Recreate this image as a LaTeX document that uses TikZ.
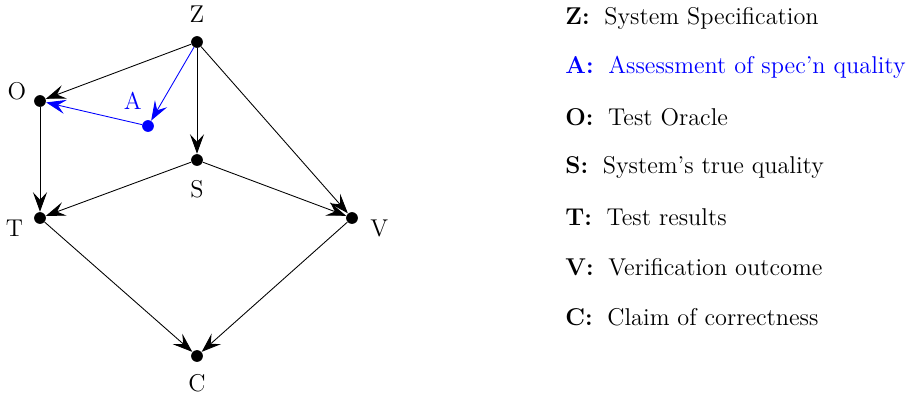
\documentclass[tikz,border=0pt]{standalone}
\usetikzlibrary{arrows.meta}
\begin{document}
\begin{tikzpicture}[x=0.0162cm, y=-0.0162cm,
    font=\fontsize{11.2}{13.5}\selectfont,
    >={Stealth[length=9pt, width=6.5pt, inset=3.5pt]},
    var/.style={circle, fill=black, inner sep=0pt, minimum size=0.19cm},
    key/.style={anchor=west, inner sep=0pt}]
  \useasboundingbox (0,0) rectangle (914,394);
  % variables
  \node[var, label={[label distance=2.5pt]above:Z}] (z) at (197,42)  {};
  \node[var, label={[yshift=4.6pt]left:O}]          (o) at (40,101)  {};
  \node[var, fill=blue, label={[xshift=-7pt, label distance=1pt, text=blue]above:A}] (a) at (148,126) {};
  \node[var, label={[label distance=3pt]below:S}]   (s) at (197,160) {};
  \node[var, label={[yshift=-4.6pt, xshift=-1.4pt]left:T}]  (t) at (40,218)  {};
  \node[var, label={[yshift=-4.6pt, xshift=2pt]right:V}]    (v) at (352,218) {};
  \node[var, label={[label distance=2pt]below:C}]   (c) at (197,356) {};
  \draw[->] (z) -- (o);
  \draw[->] (z) -- (s);
  \draw[->] (z) -- (v);
  \draw[->, blue] (z) -- (a);
  \draw[->, blue] (a) -- (o);
  \draw[->] (o) -- (t);
  \draw[->] (s) -- (t);
  \draw[->] (s) -- (v);
  \draw[->] (t) -- (c);
  \draw[->] (v) -- (c);
  % legend
  \node[key] (kz) at (565,18)  {\textbf{Z:}\; System Specification};
  \node[key, text=blue] (ka) at (565,67) {\textbf{A:}\; Assessment of spec'n quality};
  \node[key] (ko) at (565,117) {\textbf{O:}\; Test Oracle};
  \node[key] (ks) at (565,167) {\textbf{S:}\; System's true quality};
  \node[key] (kt) at (565,217) {\textbf{T:}\; Test results};
  \node[key] (kv) at (565,267) {\textbf{V:}\; Verification outcome};
  \node[key] (kc) at (565,317) {\textbf{C:}\; Claim of correctness};
\end{tikzpicture}
\end{document}
